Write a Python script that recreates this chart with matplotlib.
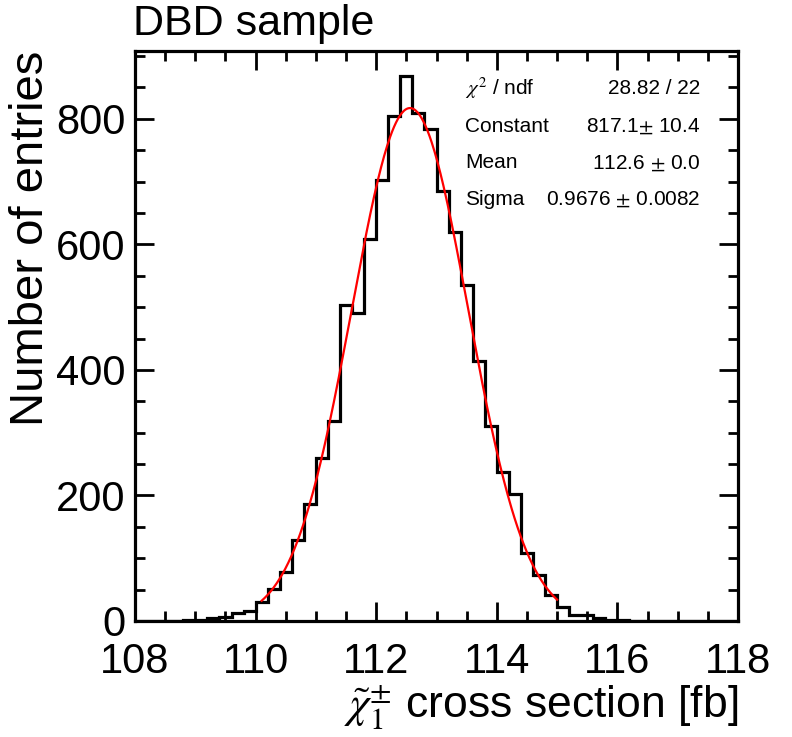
import numpy as np
import matplotlib
matplotlib.use("Agg")
import matplotlib.pyplot as plt
from matplotlib.ticker import MultipleLocator

plt.rcParams['font.family'] = ['Liberation Sans', 'DejaVu Sans']
plt.rcParams['mathtext.fontset'] = 'stix'

# histogram: 50 bins of 0.2 fb between 108 and 118
bin_edges = np.linspace(108, 118, 51)
counts = [0, 0, 0, 0, 1, 2, 4, 7, 13, 16,
          30, 51, 78, 129, 186, 259, 318, 503, 490, 609,
          703, 805, 868, 810, 784, 685, 620, 536, 414, 310,
          238, 202, 109, 74, 42, 23, 10, 9, 5, 2,
          1, 0, 0, 0, 0, 0, 0, 0, 0, 0]

# gaussian fit result
fit_const = 817.1
fit_mean = 112.56
fit_sigma = 0.9676
fit_range = (110.1, 115.0)

stat_names = [r'$\chi^2$ / ndf', 'Constant', 'Mean', 'Sigma']
stat_values = ['28.82 / 22', '817.1$\\pm$ 10.4', '112.6 $\\pm$ 0.0', '0.9676 $\\pm$ 0.0082']

fig = plt.figure(figsize=(7.92, 7.37), dpi=100)
ax = fig.add_axes([0.1705, 0.1574, 0.7613, 0.7734])

ax.stairs(counts, bin_edges, color='black', linewidth=2.3)

xf = np.linspace(fit_range[0], fit_range[1], 300)
yf = fit_const * np.exp(-0.5 * ((xf - fit_mean) / fit_sigma) ** 2)
ax.plot(xf, yf, color='red', linewidth=1.6)

ax.set_xlim(108, 118)
ax.set_ylim(0, 908)

ax.xaxis.set_major_locator(MultipleLocator(2))
ax.xaxis.set_minor_locator(MultipleLocator(0.5))
ax.yaxis.set_major_locator(MultipleLocator(200))
ax.yaxis.set_minor_locator(MultipleLocator(50))
ax.tick_params(which='both', direction='in', top=True, right=True, width=2, labelsize=30)
ax.tick_params(which='major', length=14)
ax.tick_params(which='minor', length=7)
ax.tick_params(axis='x', pad=15)
ax.tick_params(axis='y', pad=7)
for s in ax.spines.values():
    s.set_linewidth(2.3)

ax.set_xlabel(r'$\tilde{\chi}^{\pm}_{1}$ cross section [fb]', fontsize=32, loc='right', labelpad=1)
ax.set_ylabel('Number of entries', fontsize=34, loc='top', labelpad=2)

fig.text(0.168, 0.995, 'DBD sample', fontsize=31, ha='left', va='top')

rows_y = [0.935, 0.868, 0.804, 0.740]
for name, val, yy in zip(stat_names, stat_values, rows_y):
    ax.text(0.547, yy, name, transform=ax.transAxes, fontsize=15, ha='left', va='center')
    ax.text(0.937, yy, val, transform=ax.transAxes, fontsize=15, ha='right', va='center')

fig.savefig('out.png', dpi=100)
